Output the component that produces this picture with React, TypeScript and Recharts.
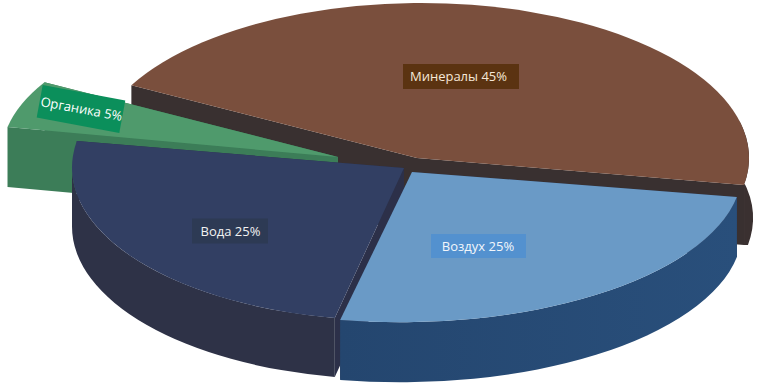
import { PieChart, Pie } from 'recharts'

// значения секторов, порядок = порядок отрисовки (задний план первым)
const names = ['Минералы', 'Органика', 'Вода', 'Воздух']
const values = [45, 5, 25, 25]

const topColors = ['#7A4F3D', '#4F9A6C', '#323F63', '#6A9AC6']
const cutColors = ['#393030', '#3C7D58', '#2C3049', '#2C3049']
const wallColors = ['#3A3030', '#3C7D58', '#2E3247', 'url(#airWall)']
const labelFills = ['#5B3311', '#0B8F5B', '#2D3A54', '#5391CF']
const labelTexts = ['#F6E8D8', '#FFFFFF', '#F2F2F2', '#F2F6FB']

// перспектива: у каждого сектора свой эллипс и своя вершина
const ellipses = [
  { ax: 417, ay: 158, cx: 421, cy: 158, rx: 328, ry: 155, d: 60, from: -10, to: 14, wx: 4 },
  { ax: 338, ay: 157, cx: 365, cy: 153.5, rx: 363, ry: 152, d: 60, from: 0, to: 0, wx: 0 },
  { ax: 404, ay: 168, cx: 390, cy: 167.6, rx: 318, ry: 152.7, d: 59, from: 180, to: 260, wx: 0 },
  { ax: 412, ay: 172, cx: 399.6, cy: 170.6, rx: 342.5, ry: 151.7, d: 60, from: 260, to: 350, wx: 0 },
]
const labelBoxes = [
  { x: 461, y: 76.5, w: 116, h: 25, rot: 0, tx: -2.5 },
  { x: 81, y: 109, w: 84, h: 33, rot: 10.5, tx: 0.5 },
  { x: 230, y: 231, w: 76, h: 25, rot: 0, tx: 0.5 },
  { x: 478.5, y: 246, w: 95, h: 24, rot: 0, tx: -0.5 },
]

const data = names.map((name, i) => ({ name, value: values[i], idx: i }))

type Geo = (typeof ellipses)[number]

function pt(g: Geo, deg: number, grow = 0) {
  const a = (deg * Math.PI) / 180
  return [g.cx + (g.rx + grow) * Math.cos(a), g.cy - g.ry * Math.sin(a)]
}

function SliceShape(props: any) {
  const { startAngle, endAngle, idx } = props
  const g = ellipses[idx]
  const s = pt(g, startAngle)
  const e = pt(g, endAngle)
  const large = endAngle - startAngle > 180 ? 1 : 0
  const top = `M${g.ax},${g.ay} L${s[0]},${s[1]} A${g.rx},${g.ry} 0 ${large} 0 ${e[0]},${e[1]} Z`
  const cut = (p: number[]) =>
    `M${g.ax},${g.ay} L${p[0]},${p[1]} L${p[0]},${p[1] + g.d} L${g.ax},${g.ay + g.d} Z`
  let wall = ''
  if (g.to > g.from) {
    const a = pt(g, g.from)
    const b = pt(g, g.to)
    const a2 = pt(g, g.from, g.wx)
    const b2 = pt(g, g.to, g.wx)
    wall =
      `M${a[0]},${a[1]} A${g.rx},${g.ry} 0 0 0 ${b[0]},${b[1]} ` +
      `L${b2[0]},${b2[1] + g.d} A${g.rx + g.wx},${g.ry} 0 0 1 ${a2[0]},${a2[1] + g.d} ` +
      `L${a[0]},${a[1] + g.d} Z`
  }
  return (
    <g>
      <path d={cut(s)} fill={cutColors[idx]} />
      <path d={cut(e)} fill={cutColors[idx]} />
      {wall && <path d={wall} fill={wallColors[idx]} />}
      <path d={top} fill={topColors[idx]} />
    </g>
  )
}

function SliceLabel(props: any) {
  const { index, name, value } = props
  const b = labelBoxes[index]
  return (
    <g transform={`rotate(${b.rot} ${b.x} ${b.y})`}>
      <rect x={b.x - b.w / 2} y={b.y - b.h / 2} width={b.w} height={b.h} fill={labelFills[index]} />
      <text
        x={b.x + b.tx}
        y={b.y + 4.5}
        textAnchor="middle"
        fontFamily="'Open Sans', sans-serif"
        fontSize={13}
        fill={labelTexts[index]}
      >
        {`${name} ${value}%`}
      </text>
    </g>
  )
}

export default function App() {
  return (
    <div style={{ position: 'absolute', left: 0, top: 0, width: 769, height: 390, background: '#fff' }}>
      <PieChart width={769} height={390} margin={{ top: 0, right: 0, bottom: 0, left: 0 }}>
        <defs>
          <linearGradient id="airWall" x1="0" y1="0" x2="1" y2="0">
            <stop offset="0%" stopColor="#24466F" />
            <stop offset="100%" stopColor="#294F7B" />
          </linearGradient>
        </defs>
        <Pie
          data={data}
          dataKey="value"
          nameKey="name"
          cx={400}
          cy={195}
          outerRadius={100}
          startAngle={-10}
          endAngle={350}
          stroke="none"
          isAnimationActive={false}
          shape={SliceShape}
          inactiveShape={SliceShape}
          activeShape={SliceShape}
          label={SliceLabel}
          labelLine={false}
        />
      </PieChart>
    </div>
  )
}
